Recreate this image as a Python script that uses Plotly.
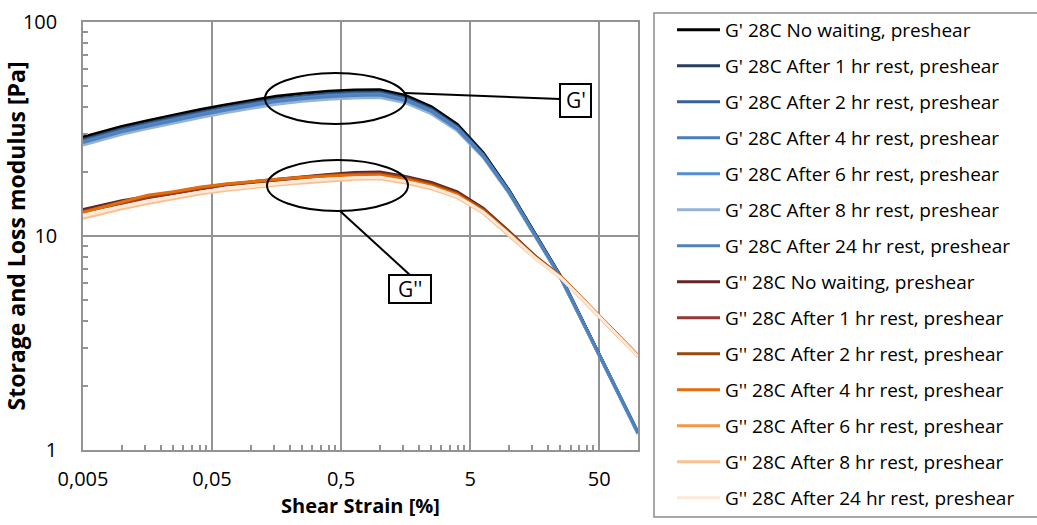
import math
import plotly.graph_objects as go

# Shear strain sweep points [%]
strain = [0.005, 0.01, 0.0158, 0.0251, 0.0398, 0.0631, 0.1, 0.158, 0.251, 0.398, 0.631,
          1, 1.58, 2.51, 3.98, 6.31, 10, 15.8, 25.1, 39.8, 63.1, 100]

# Storage modulus G' [Pa]
gp_none = [29.0, 32.5, 34.6, 36.8, 38.9, 41.0, 43.0, 45.0, 46.4, 47.5, 48.1, 48.3, 45.4, 40.2, 33.2, 24.5, 16.4, 10.3, 6.5, 3.7, 2.12, 1.21]
gp_1h = [28.2, 31.7, 33.7, 35.9, 37.9, 40.0, 41.9, 43.8, 45.2, 46.3, 46.9, 47.1, 44.3, 39.3, 32.5, 24.2, 16.3, 10.2, 6.45, 3.68, 2.11, 1.2]
gp_2h = [27.9, 31.4, 33.4, 35.5, 37.5, 39.6, 41.5, 43.4, 44.8, 45.8, 46.4, 46.6, 43.9, 38.9, 32.2, 24.0, 16.2, 10.2, 6.45, 3.68, 2.11, 1.2]
gp_4h = [27.6, 31.0, 33.0, 35.1, 37.1, 39.2, 41.0, 42.9, 44.3, 45.3, 45.9, 46.1, 43.4, 38.5, 31.9, 23.8, 16.1, 10.1, 6.4, 3.66, 2.1, 1.2]
gp_6h = [27.4, 30.8, 32.8, 34.9, 36.9, 38.9, 40.8, 42.7, 44.0, 45.1, 45.6, 45.9, 43.2, 38.3, 31.8, 23.7, 16.0, 10.1, 6.4, 3.66, 2.1, 1.19]
gp_8h = [26.6, 29.9, 31.8, 33.8, 35.7, 37.7, 39.5, 41.3, 42.6, 43.6, 44.2, 44.4, 41.9, 37.2, 31.0, 23.3, 15.8, 10.0, 6.35, 3.64, 2.09, 1.19]
gp_24h = [27.3, 30.7, 32.6, 34.7, 36.7, 38.7, 40.6, 42.5, 43.8, 44.8, 45.4, 45.6, 43.0, 38.1, 31.6, 23.6, 16.0, 10.1, 6.4, 3.66, 2.1, 1.2]

# Loss modulus G'' [Pa]
gpp_none = [13.3, 14.6, 15.3, 15.9, 16.7, 17.4, 17.9, 18.4, 18.9, 19.4, 19.8, 19.9, 19.0, 17.8, 16.1, 13.5, 10.5, 8.1, 6.45, 4.85, 3.65, 2.75]
gpp_1h = [13.0, 14.2, 15.1, 15.8, 16.6, 17.3, 17.8, 18.3, 18.8, 19.2, 19.5, 19.6, 18.7, 17.5, 15.8, 13.3, 10.4, 8.05, 6.4, 4.85, 3.65, 2.75]
gpp_2h = [13.0, 14.3, 15.3, 16.0, 16.8, 17.4, 17.9, 18.4, 18.8, 19.2, 19.4, 19.5, 18.6, 17.4, 15.8, 13.3, 10.4, 8.1, 6.5, 4.9, 3.68, 2.76]
gpp_4h = [12.9, 14.4, 15.5, 16.1, 16.9, 17.5, 18.0, 18.4, 18.8, 19.1, 19.3, 19.3, 18.4, 17.2, 15.6, 13.1, 10.3, 8.0, 6.45, 4.88, 3.66, 2.75]
gpp_6h = [12.3, 13.6, 14.4, 15.1, 15.9, 16.5, 17.0, 17.5, 17.9, 18.3, 18.6, 18.7, 17.9, 16.8, 15.2, 12.9, 10.2, 7.95, 6.4, 4.85, 3.64, 2.74]
gpp_8h = [12.1, 13.4, 14.2, 14.9, 15.7, 16.3, 16.8, 17.3, 17.7, 18.1, 18.4, 18.5, 17.7, 16.6, 15.1, 12.8, 10.1, 7.9, 6.38, 4.83, 3.63, 2.73]
gpp_24h = [12.4, 13.7, 14.5, 15.2, 16.0, 16.6, 17.1, 17.6, 18.0, 18.4, 18.7, 18.8, 18.0, 16.9, 15.3, 12.95, 10.2, 7.95, 6.4, 4.85, 3.64, 2.74]

series_names = [
    "G' 28C No waiting, preshear",
    "G' 28C After 1 hr rest, preshear",
    "G' 28C After 2 hr rest, preshear",
    "G' 28C After 4 hr rest, preshear",
    "G' 28C After 6 hr rest, preshear",
    "G' 28C After 8 hr rest, preshear",
    "G' 28C After 24 hr rest, preshear",
    "G'' 28C No waiting, preshear",
    "G'' 28C After 1 hr rest, preshear",
    "G'' 28C After 2 hr rest, preshear",
    "G'' 28C After 4 hr rest, preshear",
    "G'' 28C After 6 hr rest, preshear",
    "G'' 28C After 8 hr rest, preshear",
    "G'' 28C After 24 hr rest, preshear",
]
series_values = [gp_none, gp_1h, gp_2h, gp_4h, gp_6h, gp_8h, gp_24h,
                 gpp_none, gpp_1h, gpp_2h, gpp_4h, gpp_6h, gpp_8h, gpp_24h]
series_colors = ["#000000", "#243f60", "#376092", "#4a7ebb", "#558ed5", "#95b3d7", "#4f81bd",
                 "#632523", "#953735", "#984807", "#e46c0a", "#f79646", "#fac090", "#fde9d9"]

x_ticks = [0.005, 0.05, 0.5, 5, 50]
x_tick_text = ["0,005", "0,05", "0,5", "5", "50"]
y_ticks = [1, 10, 100]
y_tick_text = ["1", "10", "100"]

x_minor = [m * d for d in (0.005, 0.05, 0.5, 5) for m in range(2, 10)]
y_minor = [m * d for d in (1, 10) for m in range(2, 10)]

FONT = "Open Sans"
GRID = "#939393"

fig = go.Figure()
for i, (name, vals, color) in enumerate(zip(series_names, series_values, series_colors)):
    fig.add_trace(go.Scatter(
        x=strain, y=vals, mode="lines", name=name,
        line=dict(color=color, width=3),
        legendgroup=f"s{i}",
    ))

# plot box in pixels, used to place the callouts and legend frame
W, H = 1037, 525
L, R, T, B = 83, 638, 22, 450


def px(xp, yp):
    return (xp - L) / (R - L), (B - yp) / (B - T)


shapes = []
for (x0, y0, x1, y1) in [(265, 73, 406, 124), (267, 160, 408, 211)]:
    a, b = px(x0, y1)
    c, d = px(x1, y0)
    shapes.append(dict(type="circle", xref="paper", yref="paper", x0=a, y0=b, x1=c, y1=d,
                       line=dict(color="black", width=2)))
for (x0, y0, x1, y1) in [(405, 93, 560, 99), (340, 211, 410, 275)]:
    a, b = px(x0, y0)
    c, d = px(x1, y1)
    shapes.append(dict(type="line", xref="paper", yref="paper", x0=a, y0=b, x1=c, y1=d,
                       line=dict(color="black", width=2)))
annotations = []
for label, (x0, y0, x1, y1) in [("G'", (560, 84, 591, 117)), ("G''", (389, 275, 431, 303))]:
    a, b = px(x0, y1)
    c, d = px(x1, y0)
    shapes.append(dict(type="rect", xref="paper", yref="paper", x0=a, y0=b, x1=c, y1=d,
                       line=dict(color="black", width=2), fillcolor="white"))
    annotations.append(dict(text=label, xref="paper", yref="paper", x=(a + c) / 2, y=(b + d) / 2,
                            xanchor="center", yanchor="middle",
                            showarrow=False, font=dict(family=FONT, size=21, color="black")))

# legend frame (runs past the right edge of the page)
a, b = px(654, 517)
c, d = px(1060, 13)
shapes.append(dict(type="rect", xref="paper", yref="paper", x0=a, y0=b, x1=c, y1=d,
                   line=dict(color="#8c8c8c", width=1.5), layer="below"))

lx, ly = px(672, 11)

fig.update_layout(
    width=W, height=H,
    margin=dict(l=L, r=W - R, t=T, b=H - B, autoexpand=False),
    plot_bgcolor="white", paper_bgcolor="white",
    font=dict(family=FONT, size=20, color="black"),
    showlegend=True,
    legend=dict(
        x=lx, y=ly, xanchor="left", yanchor="top",
        borderwidth=0, bgcolor="rgba(0,0,0,0)",
        font=dict(family=FONT, size=19, color="black"),
        tracegroupgap=8.3, itemwidth=43, maxheight=700,
    ),
    shapes=shapes,
    annotations=annotations,
    xaxis=dict(
        type="log", range=[math.log10(0.005), math.log10(100)],
        tickmode="array", tickvals=x_ticks, ticktext=x_tick_text,
        showgrid=True, gridcolor=GRID, gridwidth=1.5,
        showline=True, linecolor=GRID, linewidth=1.5, mirror=True,
        ticks="", ticklabelstandoff=10,
        minor=dict(tickmode="array", tickvals=x_minor, ticks="inside", ticklen=5,
                   tickcolor=GRID, tickwidth=1.5, showgrid=False),
        title=dict(text="<b>Shear Strain [%]</b>", standoff=8, font=dict(size=20)),
        zeroline=False,
    ),
    yaxis=dict(
        type="log", range=[0, 2],
        tickmode="array", tickvals=y_ticks, ticktext=y_tick_text,
        showgrid=True, gridcolor=GRID, gridwidth=1.5,
        showline=True, linecolor=GRID, linewidth=1.5, mirror=True,
        ticks="", ticklabelstandoff=20,
        minor=dict(tickmode="array", tickvals=y_minor, ticks="inside", ticklen=5,
                   tickcolor=GRID, tickwidth=1.5, showgrid=False),
        title=dict(text="<b>Storage and Loss modulus [Pa]</b>", standoff=3, font=dict(size=23)),
        zeroline=False,
    ),
)

fig.write_html("out.html")
